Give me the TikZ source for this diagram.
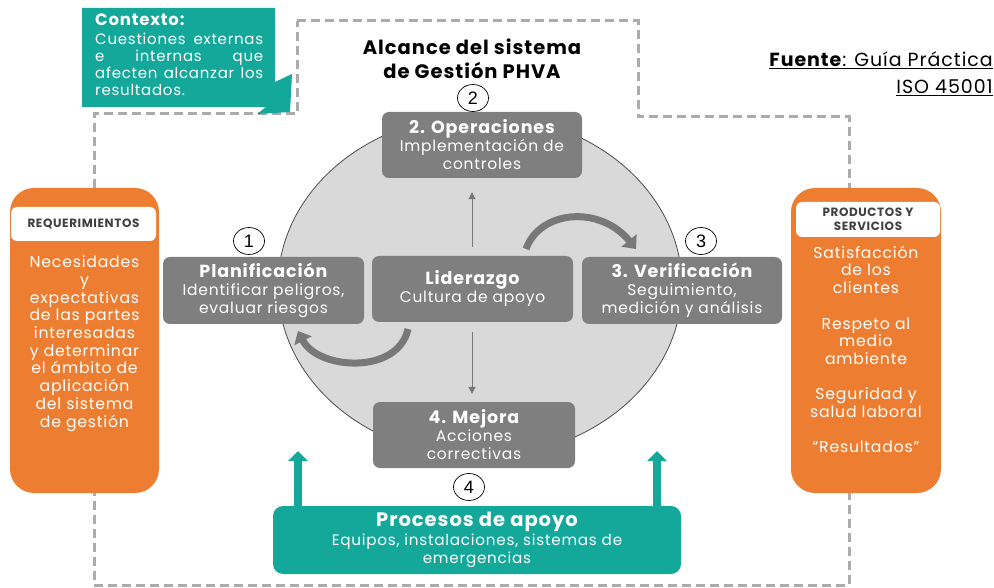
\documentclass[tikz,border=0pt]{standalone}
\usepackage{fontspec}
\setmainfont{Poppins}[LetterSpace=5]
\newfontfamily\numfont{Liberation Sans}
\usetikzlibrary{arrows.meta,shapes.geometric}
\definecolor{tealc}{RGB}{20,168,155}
\definecolor{orng}{RGB}{237,125,49}
\definecolor{gboxc}{RGB}{127,127,127}
\definecolor{circfill}{RGB}{217,217,217}
\definecolor{dashc}{RGB}{171,171,171}
\definecolor{hdrtxt}{RGB}{64,64,64}
\definecolor{arrc}{RGB}{120,120,120}
\begin{document}
\begin{tikzpicture}[x=1pt,y=-1pt,
  dashline/.style={draw=dashc, line width=3pt, dash pattern=on 9pt off 5pt},
  gbox/.style={fill=gboxc, rounded corners=7pt, text=white, align=center, inner sep=0pt,
     font=\fontsize{15.5}{18}\selectfont},
  obox/.style={fill=orng, rounded corners=24pt, inner sep=0pt},
  hbox/.style={fill=white, rounded corners=6pt, inner sep=0pt, align=center, text=hdrtxt,
     font=\bfseries\fontsize{12}{14}\selectfont},
  otext/.style={text=white, align=center, inner sep=0pt, font=\fontsize{15.7}{17.7}\selectfont},
  numc/.style={ellipse, draw=black, line width=0.7pt, fill=white, minimum width=31pt,
     minimum height=27pt, inner sep=0pt, font=\numfont\fontsize{18}{18}\selectfont},
  thinarr/.style={draw=arrc, line width=1pt, -{Triangle[length=7pt,width=7pt]}},
  curvarr/.style={draw=arrc, line width=7pt, -{Triangle[length=11pt,width=19pt]}},
  tealarr/.style={draw=tealc, line width=8pt, -{Triangle[length=10pt,width=19pt]}}
]
\useasboundingbox (0,0) rectangle (994,588);

% dashed scope outline
\draw[dashline] (297,21) -- (638,21) -- (638,117) -- (849,117) -- (849,585) -- (94,585) -- (94,114) -- (297,114) -- cycle;

% context callout
\fill[tealc] (82,8) -- (275,8) -- (275,82) -- (292,74) -- (290,112) -- (257,114) -- (266,107) -- (82,107) -- cycle;
\node[text=white, inner sep=0pt, anchor=north west, text width=168pt, align=left,
  font=\fontsize{15}{16.8}\selectfont] (ctx) at (95,14)
  {{\bfseries\fontsize{16.5}{16.8}\selectfont Contexto:}\\[2pt]
   \makebox[168pt]{Cuestiones\hfill externas}\\
   \makebox[168pt]{e\hfill internas\hfill que}\\
   \makebox[168pt]{afecten\hfill alcanzar\hfill los}\\
   resultados.};

% title
\node[font=\bfseries\fontsize{19.5}{24}\selectfont, align=center, inner sep=0pt] (title) at (472,59)
  {Alcance del sistema\\ de Gestión PHVA};

% source
\node[anchor=east, inner sep=0pt, font=\fontsize{19}{20}\selectfont] (src1) at (993,60)
  {\underline{\textbf{Fuente}: Guía Práctica}};
\node[anchor=east, inner sep=0pt, font=\fontsize{19}{20}\selectfont] (src2) at (993,88)
  {\underline{ISO 45001}};

% central circle
\draw[fill=circfill, draw=black!70, line width=0.8pt] (480,286) ellipse [x radius=202, y radius=171];

% gray boxes
\node[gbox, minimum width=200pt, minimum height=66pt] (ope) at (482,145)
  {{\bfseries\fontsize{17.5}{18}\selectfont 2. Operaciones}\\ Implementación de\\ controles};
\node[gbox, minimum width=201pt, minimum height=66pt] (lid) at (472.5,289)
  {{\bfseries\fontsize{17.5}{18}\selectfont Liderazgo}\\ Cultura de apoyo};
\node[gbox, minimum width=200pt, minimum height=67pt] (ver) at (682,290.5)
  {{\bfseries\fontsize{17.5}{18}\selectfont 3. Verificación}\\ Seguimiento,\\ medición y análisis};
\node[gbox, minimum width=201pt, minimum height=67pt] (pla) at (263.5,290.5)
  {{\bfseries\fontsize{17.5}{18}\selectfont Planificación}\\ Identificar peligros,\\ evaluar riesgos};
\node[gbox, minimum width=202pt, minimum height=66pt] (mej) at (474,435)
  {{\bfseries\fontsize{17.5}{18}\selectfont 4. Mejora}\\ Acciones\\ correctivas};

% thin arrows
\draw[thinarr, shorten <=9pt, shorten >=14pt] (lid.north -| 472,0) -- (ope.south -| 472,0);
\draw[thinarr, shorten <=10pt, shorten >=8pt] (lid.south -| 472,0) -- (mej.north -| 472,0);

% curved arrows
\coordinate (ca1s) at (526,249);
\coordinate (ca1e) at (636,249);
\draw[curvarr] (ca1s) .. controls (540,210) and (600,205) .. (ca1e);
\coordinate (ca2s) at (408,329);
\coordinate (ca2e) at (298,331);
\draw[curvarr] (ca2s) .. controls (398,375) and (318,370) .. (ca2e);

% number markers
\node[numc] (n1) at (249,241) {1};
\node[numc] (n2) at (473,98) {2};
\node[numc] (n3) at (701,241) {3};
\node[numc] (n4) at (469,487) {4};

% support processes
\node[gbox, fill=tealc, rounded corners=10pt, minimum width=408pt, minimum height=68pt,
  font=\fontsize{15.2}{18.5}\selectfont] (pro) at (477,540)
  {{\bfseries\fontsize{19.5}{18.5}\selectfont Procesos de apoyo}\\ Equipos, instalaciones, sistemas de\\ emergencias};
\coordinate (ta1) at (298,451);
\coordinate (ta2) at (657,451);
\draw[tealarr] (pro.north -| ta1) -- (ta1);
\draw[tealarr] (pro.north -| ta2) -- (ta2);

% left orange box
\node[obox, minimum width=149pt, minimum height=305pt] (req) at (84.5,340.5) {};
\node[hbox, minimum width=145pt, minimum height=34pt] (reqh) at (83.5,224) {REQUERIMIENTOS};
\node[otext] (reqt) at (84.5,343.5)
  {Necesidades\\ y\\ expectativas\\ de las partes\\ interesadas\\ y determinar\\ el ámbito de\\ aplicación\\ del sistema\\ de gestión};

% right orange box
\node[obox, minimum width=150pt, minimum height=305pt] (prd) at (866,340.5) {};
\node[hbox, minimum width=144pt, minimum height=35pt] (prdh) at (868,219.5) {PRODUCTOS Y\\ SERVICIOS};
\node[otext] (prdt) at (866,349.5)
  {Satisfacción\\ de los\\ clientes\\[17.7pt] Respeto al\\ medio\\ ambiente\\[17.7pt] Seguridad y\\ salud laboral\\[17.7pt] “Resultados”};

\end{tikzpicture}
\end{document}
